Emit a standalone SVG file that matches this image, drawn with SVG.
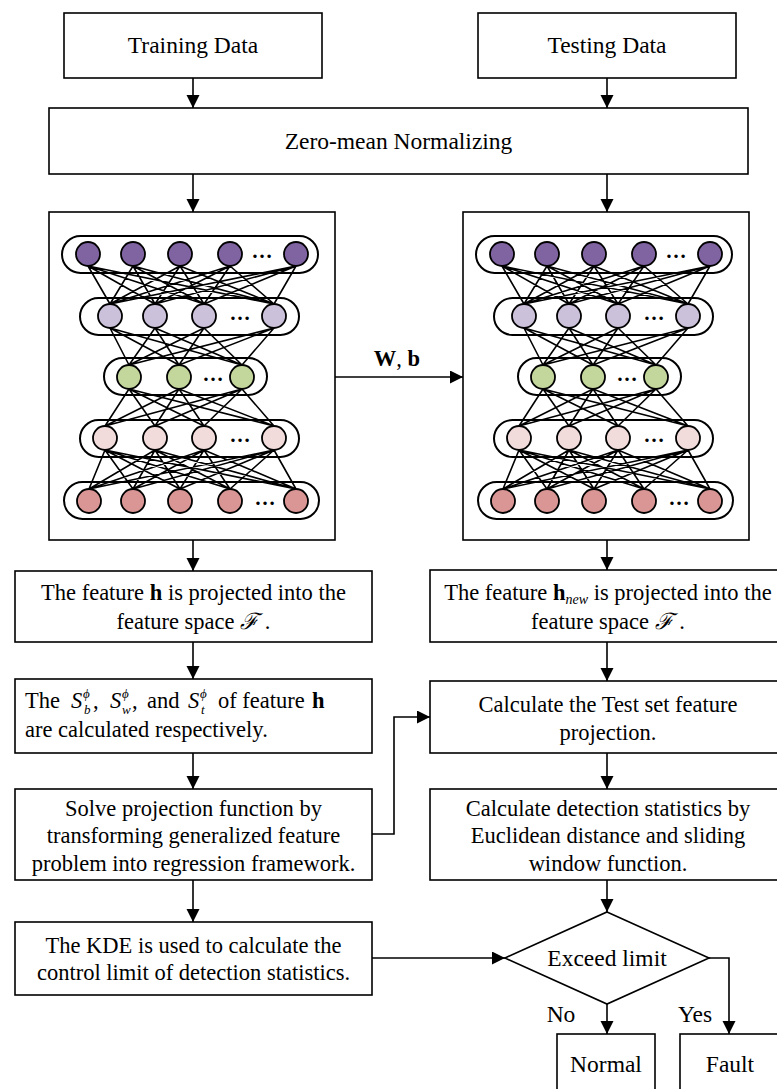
<svg xmlns="http://www.w3.org/2000/svg" xmlns:xlink="http://www.w3.org/1999/xlink" width="777" height="1089" viewBox="0 0 777 1089">
<style>
.box{fill:#fff;stroke:#000;stroke-width:1.6}
.t{font-family:"Liberation Serif","Times New Roman",serif;font-size:22.5px;fill:#000}
.tl{font-family:"Liberation Serif","Times New Roman",serif;font-size:23.5px;fill:#000}
.c{text-anchor:middle}
.b{font-weight:bold}
.i{font-style:italic}
.conn{fill:none;stroke:#000;stroke-width:1.6}
.w{fill:none;stroke:#000;stroke-width:1.6}
.cap{fill:none;stroke:#000;stroke-width:2}
.n{stroke:#000;stroke-width:1.8}
.n1{fill:#8064A2}.n2{fill:#CCC1DA}.n3{fill:#C3D69B}.n4{fill:#F2DCDB}.n5{fill:#D99694}
.dots{font-family:"Liberation Serif",serif;font-size:21px;font-weight:bold;text-anchor:middle}
</style>
<defs>
<marker id="ah" markerWidth="14" markerHeight="14" refX="13" refY="6.5" orient="auto" markerUnits="userSpaceOnUse"><path d="M0,0 L13,6.5 L0,13 z" fill="#000"/></marker>
<g id="nn">
<path class="w" d="M88 266L110 304M88 266L155 304M88 266L204 304M88 266L274 304M133 266L110 304M133 266L155 304M133 266L204 304M133 266L274 304M180 266L110 304M180 266L155 304M180 266L204 304M180 266L274 304M230 266L110 304M230 266L155 304M230 266L204 304M230 266L274 304M296 266L110 304M296 266L155 304M296 266L204 304M296 266L274 304"/>
<path class="w" d="M110 328L129 365M110 328L179 365M110 328L242 365M155 328L129 365M155 328L179 365M155 328L242 365M204 328L129 365M204 328L179 365M204 328L242 365M274 328L129 365M274 328L179 365M274 328L242 365"/>
<path class="w" d="M129 389L105 426M129 389L155 426M129 389L204 426M129 389L274 426M179 389L105 426M179 389L155 426M179 389L204 426M179 389L274 426M242 389L105 426M242 389L155 426M242 389L204 426M242 389L274 426"/>
<path class="w" d="M105 450L89 489M105 450L133 489M105 450L180 489M105 450L230 489M105 450L296 489M155 450L89 489M155 450L133 489M155 450L180 489M155 450L230 489M155 450L296 489M204 450L89 489M204 450L133 489M204 450L180 489M204 450L230 489M204 450L296 489M274 450L89 489M274 450L133 489M274 450L180 489M274 450L230 489M274 450L296 489"/>
<rect class="cap" x="62" y="236" width="256" height="37" rx="18.5"/>
<rect class="cap" x="80" y="298" width="219" height="37" rx="18.5"/>
<rect class="cap" x="104" y="358" width="163" height="37" rx="18.5"/>
<rect class="cap" x="80" y="420" width="219" height="37" rx="18.5"/>
<rect class="cap" x="64" y="482" width="255" height="37" rx="18.5"/>
<g class="n n1"><circle cx="88" cy="254" r="12"/><circle cx="133" cy="254" r="12"/><circle cx="180" cy="254" r="12"/><circle cx="230" cy="254" r="12"/><circle cx="296" cy="254" r="12"/></g>
<g class="n n2"><circle cx="110" cy="316" r="12"/><circle cx="155" cy="316" r="12"/><circle cx="204" cy="316" r="12"/><circle cx="274" cy="316" r="12"/></g>
<g class="n n3"><circle cx="129" cy="377" r="12"/><circle cx="179" cy="377" r="12"/><circle cx="242" cy="377" r="12"/></g>
<g class="n n4"><circle cx="105" cy="438" r="12"/><circle cx="155" cy="438" r="12"/><circle cx="204" cy="438" r="12"/><circle cx="274" cy="438" r="12"/></g>
<g class="n n5"><circle cx="89" cy="501" r="12"/><circle cx="133" cy="501" r="12"/><circle cx="180" cy="501" r="12"/><circle cx="230" cy="501" r="12"/><circle cx="296" cy="501" r="12"/></g>
<text class="dots" x="262" y="258">…</text>
<text class="dots" x="240" y="320">…</text>
<text class="dots" x="213" y="381">…</text>
<text class="dots" x="240" y="442">…</text>
<text class="dots" x="265" y="505">…</text>
</g>
</defs>
<rect width="777" height="1089" fill="#fff"/>

<g id="connectors">
<path class="conn" d="M193 78V108" marker-end="url(#ah)"/>
<path class="conn" d="M607 78V108" marker-end="url(#ah)"/>
<path class="conn" d="M193 174V212" marker-end="url(#ah)"/>
<path class="conn" d="M607 174V212" marker-end="url(#ah)"/>
<path class="conn" d="M335 377H463" marker-end="url(#ah)"/>
<path class="conn" d="M193 540V571" marker-end="url(#ah)"/>
<path class="conn" d="M607 540V570" marker-end="url(#ah)"/>
<path class="conn" d="M193 642V679" marker-end="url(#ah)"/>
<path class="conn" d="M193 753V789" marker-end="url(#ah)"/>
<path class="conn" d="M193 880V922" marker-end="url(#ah)"/>
<path class="conn" d="M372 834H394V717H430" marker-end="url(#ah)"/>
<path class="conn" d="M607 642V681" marker-end="url(#ah)"/>
<path class="conn" d="M607 753V789" marker-end="url(#ah)"/>
<path class="conn" d="M607 880V912" marker-end="url(#ah)"/>
<path class="conn" d="M372 958H505" marker-end="url(#ah)"/>
<path class="conn" d="M607 1004V1034" marker-end="url(#ah)"/>
<path class="conn" d="M709 958H729V1034" marker-end="url(#ah)"/>
<text class="t b" x="397" y="366" text-anchor="middle">W<tspan font-weight="normal">, </tspan>b</text>
<text class="tl" x="561" y="1022" text-anchor="middle">No</text>
<text class="tl" x="695" y="1022" text-anchor="middle">Yes</text>
</g>

<g id="training-data">
<rect class="box" x="64" y="13" width="258" height="65"/>
<text class="tl c" x="193" y="53">Training Data</text>
</g>
<g id="testing-data">
<rect class="box" x="478" y="13" width="258" height="65"/>
<text class="tl c" x="607" y="53">Testing Data</text>
</g>
<g id="normalizing">
<rect class="box" x="49" y="108" width="699" height="66"/>
<text class="tl c" x="398.5" y="149">Zero-mean Normalizing</text>
</g>
<g id="network-train">
<rect class="box" x="49" y="212" width="286" height="328"/>
<use xlink:href="#nn" href="#nn"/>
</g>
<g id="network-test">
<rect class="box" x="463" y="212" width="286" height="328"/>
<use xlink:href="#nn" href="#nn" x="414"/>
</g>

<g id="project-train">
<rect class="box" x="15" y="571" width="357" height="71"/>
<text class="t c" x="193.5" y="600">The feature <tspan class="b">h</tspan> is projected into the</text>
<text class="t c" x="193.5" y="629">feature space <tspan class="i">ℱ</tspan> .</text>
</g>
<g id="scatter">
<rect class="box" x="15" y="679" width="357" height="74"/>
<text class="t" y="708"><tspan x="25">The</tspan><tspan x="71" class="i">S</tspan><tspan x="93">,</tspan><tspan x="110" class="i">S</tspan><tspan x="132">,</tspan><tspan x="147">and</tspan><tspan x="188" class="i">S</tspan><tspan x="218">of feature</tspan><tspan x="312" class="b">h</tspan></text>
<text class="t i" style="font-size:13px"><tspan x="83" y="698">ϕ</tspan><tspan x="84" y="714">b</tspan><tspan x="122" y="698">ϕ</tspan><tspan x="122" y="714">w</tspan><tspan x="200" y="698">ϕ</tspan><tspan x="201" y="714">t</tspan></text>
<text class="t" x="25" y="737">are calculated respectively.</text>
</g>
<g id="solve">
<rect class="box" x="15" y="789" width="357" height="91"/>
<text class="t c" x="193.5" y="816">Solve projection function by</text>
<text class="t c" x="193.5" y="843">transforming generalized feature</text>
<text class="t c" x="193.5" y="871">problem into regression framework.</text>
</g>
<g id="kde">
<rect class="box" x="15" y="922" width="357" height="73"/>
<text class="t c" x="193.5" y="953">The KDE is used to calculate the</text>
<text class="t c" x="193.5" y="980">control limit of detection statistics.</text>
</g>

<g id="project-test">
<rect class="box" x="430" y="570" width="357" height="72"/>
<text class="t c" x="608" y="600">The feature <tspan class="b">h</tspan><tspan class="i" style="font-size:14px" dy="4">new</tspan><tspan dy="-4"> is projected into the</tspan></text>
<text class="t c" x="608" y="629">feature space <tspan class="i">ℱ</tspan> .</text>
</g>
<g id="test-projection">
<rect class="box" x="430" y="681" width="357" height="72"/>
<text class="t c" x="608" y="712">Calculate the Test set feature</text>
<text class="t c" x="608" y="740">projection.</text>
</g>
<g id="detection">
<rect class="box" x="430" y="789" width="357" height="91"/>
<text class="t c" x="608" y="816">Calculate detection statistics by</text>
<text class="t c" x="608" y="843">Euclidean distance and sliding</text>
<text class="t c" x="608" y="871">window function.</text>
</g>
<g id="exceed">
<path class="box" d="M607 912L709 958L607 1004L505 958Z"/>
<text class="tl c" x="607" y="966">Exceed limit</text>
</g>
<g id="normal">
<rect class="box" x="557" y="1034" width="98" height="66"/>
<text class="tl c" x="606" y="1072">Normal</text>
</g>
<g id="fault">
<rect class="box" x="680" y="1034" width="100" height="66"/>
<text class="tl c" x="730" y="1072">Fault</text>
</g>
</svg>
